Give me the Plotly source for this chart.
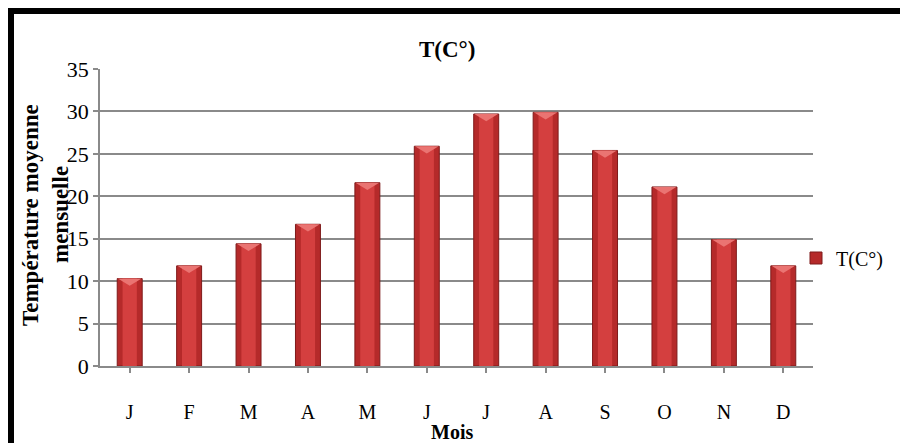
import plotly.graph_objects as go

# Monthly mean temperature (°C)
months = ["J", "F", "M", "A", "M", "J", "J", "A", "S", "O", "N", "D"]
month_ids = list(range(12))
temperatures = [10.3, 11.8, 14.4, 16.7, 21.6, 25.9, 29.7, 29.9, 25.4, 21.1, 14.9, 11.8]
y_ticks = [0, 5, 10, 15, 20, 25, 30, 35]

W, H = 900, 443
SERIF = "Liberation Serif"
GRID = "#8a8a8a"
BAR_W = 0.42


def px_x(p):
    return p / W


def px_y(p):
    return 1 - p / H


fig = go.Figure()

# main bar body (darker edges)
fig.add_trace(go.Bar(
    x=month_ids, y=temperatures, width=BAR_W, name="T(C°)",
    marker=dict(color="#b52a2a", line=dict(color="#7e1a1a", width=1)),
    showlegend=True,
))
# lighter core to suggest the rounded shading
fig.add_trace(go.Bar(
    x=month_ids, y=temperatures, width=0.24, name="core",
    marker=dict(color="#d43f3f", line=dict(width=0)),
    showlegend=False, hoverinfo="skip",
))

# bevelled cap on each bar top
for i, v in zip(month_ids, temperatures):
    half = BAR_W / 2 - 0.01
    fig.add_shape(
        type="path", xref="x", yref="y", layer="above",
        path=f"M {i - half},{v} L {i + half},{v} L {i},{v - 0.85} Z",
        fillcolor="#ea7472", line=dict(width=0),
    )

fig.update_layout(
    width=W, height=H,
    margin=dict(l=0, r=0, t=0, b=0, autoexpand=False),
    paper_bgcolor="white", plot_bgcolor="white",
    barmode="overlay",
    font=dict(family=SERIF, size=19, color="black"),
    xaxis=dict(
        domain=[px_x(100), px_x(813)],
        range=[-0.5, 11.5],
        automargin=False,
        tickmode="array", tickvals=month_ids, ticktext=months,
        tickson="boundaries", ticks="outside", ticklen=5, tickcolor=GRID, tickwidth=1.5,
        showline=True, linecolor=GRID, linewidth=1.5,
        showgrid=False, zeroline=False,
        tickfont=dict(family=SERIF, size=20, color="black"),
        ticklabelstandoff=22,
    ),
    yaxis=dict(
        domain=[px_y(366), px_y(69)],
        range=[0, 35],
        automargin=False,
        tickmode="array", tickvals=y_ticks,
        ticks="outside", ticklen=5, tickcolor=GRID, tickwidth=1.5,
        showline=True, linecolor=GRID, linewidth=1.5,
        showgrid=True, gridcolor=GRID, gridwidth=1.5,
        zeroline=False,
        tickfont=dict(family=SERIF, size=22, color="black"),
    ),
    legend=dict(
        x=px_x(796), y=px_y(258), xanchor="left", yanchor="middle",
        font=dict(family=SERIF, size=20, color="black"), bgcolor="rgba(0,0,0,0)",
        itemwidth=30, tracegroupgap=0,
    ),
    showlegend=True,
)

# chart title
fig.add_annotation(
    text="<b>T(C°)</b>", x=px_x(447), y=px_y(49), xref="paper", yref="paper",
    showarrow=False, xanchor="center", yanchor="middle",
    font=dict(family=SERIF, size=23),
)
# x axis title
fig.add_annotation(
    text="<b>Mois</b>", x=px_x(452), y=px_y(432), xref="paper", yref="paper",
    showarrow=False, xanchor="center", yanchor="middle",
    font=dict(family=SERIF, size=20),
)
# y axis title (two lines, drawn separately)
fig.add_annotation(
    text="<b>Température moyenne</b>", x=px_x(30), y=px_y(215), xref="paper", yref="paper",
    showarrow=False, textangle=-90, xanchor="center", yanchor="middle",
    font=dict(family=SERIF, size=23),
)
fig.add_annotation(
    text="<b>mensuelle</b>", x=px_x(60), y=px_y(215), xref="paper", yref="paper",
    showarrow=False, textangle=-90, xanchor="center", yanchor="middle",
    font=dict(family=SERIF, size=23),
)

# heavy frame along the top and left edges
fig.add_shape(type="line", xref="paper", yref="paper",
              x0=px_x(8), x1=1.01, y0=px_y(11), y1=px_y(11),
              line=dict(color="black", width=6))
fig.add_shape(type="line", xref="paper", yref="paper",
              x0=px_x(11), x1=px_x(11), y0=px_y(8), y1=-0.02,
              line=dict(color="black", width=6))

fig.write_html("out.html")
